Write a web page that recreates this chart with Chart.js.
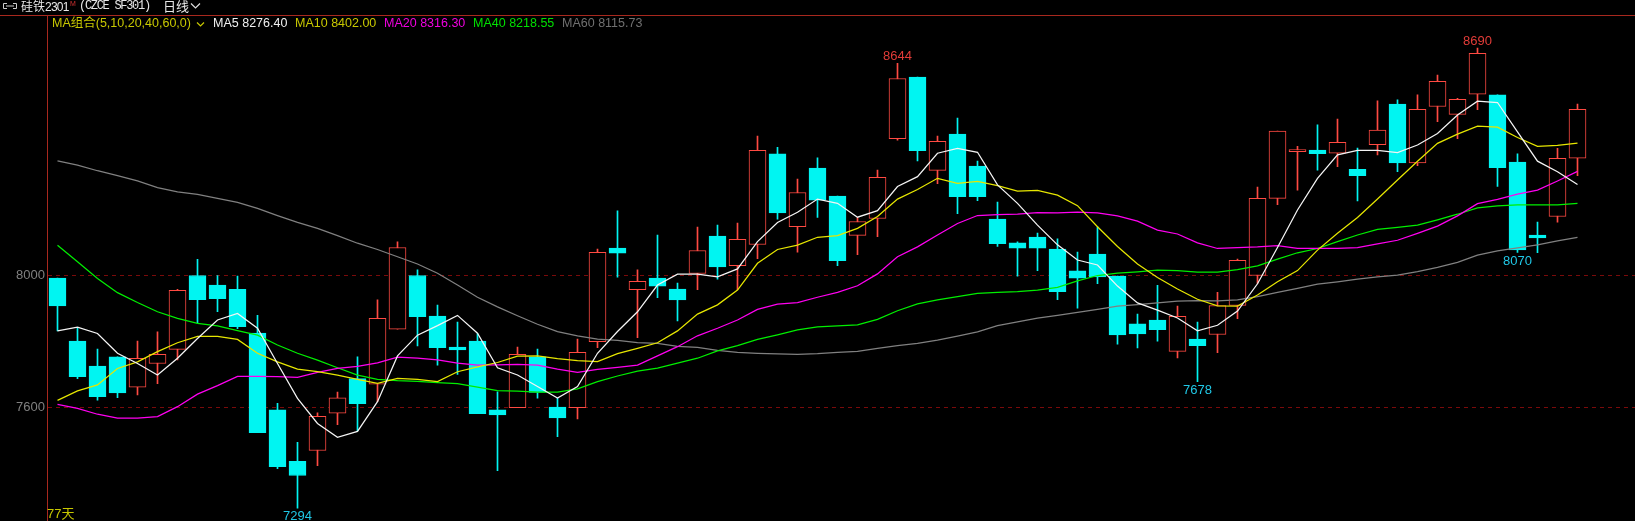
<!DOCTYPE html>
<html>
<head>
<meta charset="utf-8">
<title>硅铁2301</title>
<script src="https://cdn.jsdelivr.net/npm/chart.js@4/dist/chart.umd.min.js"></script>
<style>
  html, body { margin: 0; padding: 0; background: #000; overflow: hidden; }
  #wrap { position: relative; width: 1635px; height: 521px; background: #000; overflow: hidden; }
  canvas { position: absolute; left: 0; top: 0; }
  .t { position: absolute; white-space: nowrap; line-height: 14px; font-family: "Liberation Sans", "Noto Sans CJK SC", sans-serif; font-size: 12.5px; }
  .top-line { position: absolute; left: 0; top: 15px; width: 1635px; height: 1px; background: #a8281e; }
</style>
</head>
<body>
<div id="wrap">
  <canvas id="kline" width="1635" height="521"></canvas>
  <div class="top-line"></div>
  <svg style="position:absolute;left:2px;top:2px" width="16" height="9"><path d="M5 1.5H1.5V6.5H5M11 1.5H14.5V6.5H11M4 4H12" fill="none" stroke="#ccc" stroke-width="1"/></svg>
  <span class="t" style="left:21px;top:-1px;color:#e8e8e8;font-size:12px;font-family:'Noto Sans CJK SC'">硅铁<span style="font-family:'Liberation Sans';font-size:12px;letter-spacing:-0.8px">2301</span></span>
  <span class="t" style="left:70px;top:-3px;color:#d03030;font-size:7px">M</span>
  <span class="t" style="left:79px;top:-1px;color:#e8e8e8;font-size:12px;letter-spacing:-1.3px;font-family:'Liberation Mono'">(CZCE SF301)</span>
  <span class="t" style="left:163px;top:-1px;color:#e8e8e8;font-size:13px;font-family:'Noto Sans CJK SC'">日线</span>
  <svg style="position:absolute;left:190px;top:2px" width="11" height="8"><path d="M1 1.5L5.5 6L10 1.5" fill="none" stroke="#ddd" stroke-width="1.2"/></svg>
  <span class="t" style="left:52px;top:16px;color:#c8c800">MA组合(5,10,20,40,60,0)</span>
  <svg style="position:absolute;left:196px;top:21px" width="9" height="7"><path d="M1 1.5L4.5 5L8 1.5" fill="none" stroke="#c8c800" stroke-width="1.2"/></svg>
  <span class="t" style="left:213px;top:16px;color:#f0f0f0">MA5 8276.40</span>
  <span class="t" style="left:295px;top:16px;color:#c8c800">MA10 8402.00</span>
  <span class="t" style="left:384px;top:16px;color:#f000e0">MA20 8316.30</span>
  <span class="t" style="left:473px;top:16px;color:#00e000">MA40 8218.55</span>
  <span class="t" style="left:562px;top:16px;color:#707070">MA60 8115.73</span>
  <span class="t" style="left:47px;top:507px;color:#c8c800;font-size:13px">77天</span>
</div>
<script>
// open/close/high/low, one entry per trading day
const opens = [7992,7801,7725,7753,7661,7733,7776,8000,7971,7958,7825,7592,7436,7469,7582,7687,7670,7837,8000,7877,7783,7801,7592,7599,7753,7601,7599,7799,8083,7957,7992,7959,8006,8120,8030,8094,8369,8148,8326,8241,8122,8173,8415,8602,8319,8429,8332,8171,8099,8117,8080,8014,8065,7998,7853,7865,7770,7807,7821,7909,8000,8234,8376,8381,8371,8322,8397,8520,8342,8513,8489,8550,8548,8344,8123,8179,8356];
const closes = [7908,7693,7632,7644,7749,7761,7955,7927,7930,7845,7523,7420,7393,7573,7629,7611,7870,8085,7875,7781,7774,7581,7577,7761,7645,7568,7767,8070,8068,7982,7968,7926,8076,8026,8110,8380,8190,8252,8229,8045,8164,8298,8598,8379,8407,8239,8239,8097,8083,8083,7951,7992,7996,7820,7823,7836,7876,7787,7909,8046,8234,8438,8382,8370,8404,8303,8441,8342,8504,8589,8535,8674,8327,8078,8114,8356,8504];
const highs = [7992,7843,7777,7753,7801,7829,7958,8049,8000,7998,7879,7612,7494,7583,7646,7753,7926,8102,8017,7910,7859,7824,7647,7783,7777,7627,7807,8080,8196,8017,8123,7977,8147,8153,8159,8423,8389,8293,8357,8241,8176,8320,8644,8602,8423,8478,8347,8223,8102,8129,8111,8071,8148,7998,7883,7970,7907,7859,7949,8050,8268,8438,8392,8457,8475,8387,8530,8533,8548,8608,8538,8690,8548,8369,8162,8386,8520];
const lows = [7832,7687,7622,7629,7638,7672,7744,7856,7890,7839,7523,7414,7294,7423,7547,7528,7617,7837,7786,7728,7700,7581,7408,7599,7628,7511,7565,7781,7995,7811,7933,7862,7957,7989,7957,8051,8171,8071,8176,8030,8063,8118,8411,8348,8279,8188,8227,8088,7998,8015,7927,7901,7975,7792,7780,7801,7750,7678,7766,7869,7976,8215,8259,8320,8330,8226,8366,8315,8333,8467,8415,8503,8270,8070,8069,8162,8303];

const ma5 = [7832,7843,7824,7764,7733,7698,7749,7809,7865,7885,7840,7733,7627,7551,7509,7527,7617,7756,7819,7848,7879,7825,7720,7698,7663,7628,7663,7764,7830,7890,7971,8004,8004,7996,8020,8103,8161,8192,8232,8219,8177,8197,8270,8300,8371,8386,8374,8275,8219,8153,8093,8047,8032,7968,7917,7895,7871,7832,7849,7892,7975,8085,8199,8295,8366,8380,8380,8373,8396,8431,8487,8529,8525,8436,8347,8315,8276];
const ma10 = [7621,7650,7668,7718,7738,7769,7796,7815,7815,7806,7764,7738,7716,7708,7698,7685,7673,7688,7685,7678,7708,7723,7736,7755,7756,7748,7742,7739,7763,7779,7796,7832,7883,7911,7956,8037,8079,8092,8116,8121,8143,8179,8232,8261,8295,8280,8286,8273,8256,8258,8244,8212,8148,8088,8035,7994,7959,7928,7908,7907,7941,7981,8015,8077,8128,8176,8232,8290,8347,8401,8429,8453,8450,8419,8392,8395,8402];
const ma20 = [7609,7597,7579,7567,7567,7572,7602,7640,7666,7694,7694,7693,7691,7706,7718,7724,7735,7752,7749,7744,7734,7728,7729,7730,7728,7716,7706,7715,7721,7728,7756,7784,7817,7840,7865,7897,7913,7918,7934,7949,7969,8005,8057,8087,8123,8158,8182,8185,8186,8191,8190,8192,8190,8181,8165,8138,8126,8099,8082,8085,8087,8091,8082,8082,8082,8085,8096,8107,8128,8150,8181,8218,8231,8247,8259,8287,8316];
const ma40 = [8092,8042,7991,7948,7918,7890,7870,7855,7847,7833,7819,7789,7764,7743,7720,7698,7685,7681,7679,7675,7672,7661,7651,7649,7646,7646,7656,7678,7695,7710,7719,7734,7749,7771,7787,7806,7820,7835,7844,7847,7850,7867,7893,7914,7926,7936,7946,7949,7951,7956,7964,7984,8000,8007,8011,8016,8015,8010,8010,8018,8029,8050,8069,8082,8103,8123,8140,8146,8153,8169,8186,8205,8211,8214,8214,8214,8219];
const ma60 = [8348,8335,8318,8303,8287,8267,8254,8246,8234,8222,8204,8182,8161,8143,8121,8098,8079,8057,8035,8007,7971,7934,7905,7878,7852,7830,7817,7807,7803,7796,7794,7785,7782,7773,7767,7764,7762,7761,7763,7767,7770,7779,7787,7794,7804,7816,7829,7848,7859,7871,7879,7888,7897,7907,7912,7917,7922,7924,7923,7926,7936,7949,7961,7974,7981,7989,7996,8001,8012,8025,8040,8062,8075,8084,8093,8105,8116];

const yTicks = [7600, 8000];
const highMarks = [42, 71]; // days with a printed high
const lowMarks = [12, 57, 73]; // days with a printed low

const RED = '#ff4a42';
const CYAN = '#00f5f2';

const isUp = opens.map((o, i) => closes[i] >= o);

// prints the price labels and the high/low figures next to the extreme candles
const chartLabels = {
  id: 'chartLabels',
  afterDatasetsDraw(chart) {
    const { ctx, scales: { x, y } } = chart;
    ctx.save();
    ctx.font = '13px "Liberation Sans"';
    ctx.textAlign = 'center';
    highMarks.forEach(i => {
      ctx.fillStyle = '#e23c38';
      ctx.textBaseline = 'bottom';
      ctx.fillText(String(highs[i]), x.getPixelForValue(i), y.getPixelForValue(highs[i]));
    });
    lowMarks.forEach(i => {
      ctx.fillStyle = '#20c8e6';
      ctx.textBaseline = 'top';
      ctx.fillText(String(lows[i]), x.getPixelForValue(i), y.getPixelForValue(lows[i]) + 2);
    });
    ctx.textAlign = 'right';
    ctx.textBaseline = 'middle';
    ctx.fillStyle = '#808080';
    yTicks.forEach(v => ctx.fillText(String(v), 45, y.getPixelForValue(v)));
    ctx.restore();
  },
};

const lineSet = (label, values, color) => ({
  type: 'line',
  label,
  data: values.map((v, i) => ({ x: i, y: v })),
  borderColor: color,
  borderWidth: 1.25,
  pointRadius: 0,
  tension: 0,
  order: 1,
});

new Chart(document.getElementById('kline'), {
  data: {
    datasets: [
      lineSet('MA5', ma5, '#f4f4f4'),
      lineSet('MA10', ma10, '#e6e600'),
      lineSet('MA20', ma20, '#ff00f0'),
      lineSet('MA40', ma40, '#00ee00'),
      lineSet('MA60', ma60, '#808080'),
      {
        type: 'bar',
        label: 'body',
        data: opens.map((o, i) => ({ x: i, y: [Math.min(o, closes[i]), Math.max(o, closes[i])] })),
        backgroundColor: isUp.map(up => (up ? '#000' : CYAN)),
        borderColor: isUp.map(up => (up ? RED : CYAN)),
        borderWidth: 1,
        borderSkipped: false,
        barThickness: 17,
        grouped: false,
        order: 2,
      },
      {
        type: 'bar',
        label: 'wick',
        data: highs.map((h, i) => ({ x: i, y: [lows[i], h] })),
        backgroundColor: isUp.map(up => (up ? RED : CYAN)),
        borderWidth: 0,
        barThickness: 1,
        grouped: false,
        order: 3,
      },
    ],
  },
  options: {
    responsive: false,
    devicePixelRatio: 1,
    animation: false,
    layout: { autoPadding: false, padding: { top: 15, left: 0, right: 0, bottom: 0 } },
    plugins: { legend: { display: false }, tooltip: { enabled: false } },
    scales: {
      x: { type: 'linear', display: false, offset: false, min: -0.5, max: 78.875, grid: { display: false } },
      y: {
        min: 7255,
        max: 8790.6,
        afterBuildTicks: s => { s.ticks = yTicks.map(v => ({ value: v })); },
        afterFit: s => { s.width = 47.5; },
        ticks: { display: false },
        grid: { color: '#7a0a0a', lineWidth: 1, drawTicks: false },
        border: { color: '#a8281e', width: 1, dash: [4, 4] },
      },
    },
  },
  plugins: [chartLabels],
});
</script>
</body>
</html>
